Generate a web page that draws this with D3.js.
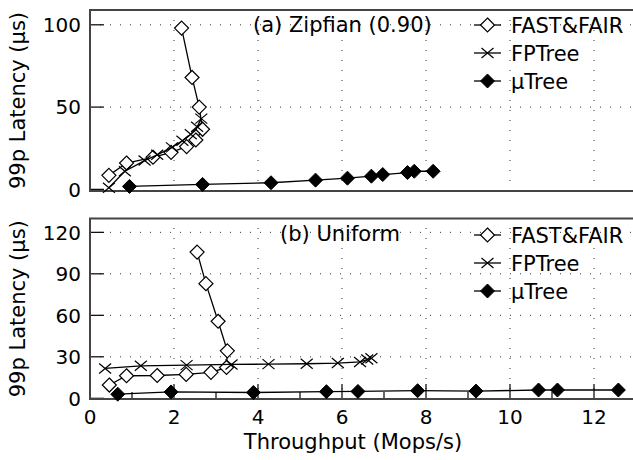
<!DOCTYPE html>
<html><head><meta charset="utf-8">
<script src="https://cdn.jsdelivr.net/npm/d3@7"></script>
<style>
body{margin:0;background:#fff;}
text{font-family:"DejaVu Sans",sans-serif;fill:#000;}
</style></head>
<body><svg id="c" width="633" height="460"></svg>
<script>
// ---- data ----
const xTicks = [0, 2, 4, 6, 8, 10, 12];
const zipfYTicks = [0, 50, 100];
const uniYTicks = [0, 30, 60, 90, 120];
const seriesNames = ["FAST&FAIR", "FPTree", "μTree"];

const zipfFastFairX = [0.45, 0.87, 1.5, 1.93, 2.3, 2.52, 2.68, 2.6, 2.43, 2.18];
const zipfFastFairY = [8.5, 16, 19.5, 22.5, 26, 30, 36.5, 50, 68, 98];
const zipfFPTreeX = [0.45, 0.83, 1.3, 1.6, 1.95, 2.2, 2.4, 2.55, 2.65];
const zipfFPTreeY = [1, 11, 17.5, 21, 25.5, 29.5, 33.5, 38, 43];
const zipfUTreeX = [0.94, 2.68, 4.31, 5.37, 6.13, 6.7, 6.97, 7.56, 7.72, 8.17];
const zipfUTreeY = [1.8, 3, 4, 5.6, 6.8, 8, 9, 10.2, 11, 11];

const uniFastFairX = [0.46, 0.87, 1.6, 2.29, 2.88, 3.25, 3.27, 3.05, 2.76, 2.55];
const uniFastFairY = [9.6, 16.3, 16.5, 17.3, 18.8, 22.3, 34.3, 55.7, 82.9, 105.7];
const uniFPTreeX = [0.36, 1.21, 2.3, 3.37, 4.25, 5.16, 5.9, 6.43, 6.6, 6.7];
const uniFPTreeY = [21.6, 23.5, 24, 24.5, 24.7, 25, 25.5, 26.3, 28, 29];
const uniUTreeX = [0.66, 1.93, 3.89, 5.63, 6.38, 7.8, 9.19, 10.68, 11.13, 12.58];
const uniUTreeY = [3, 4.6, 4.2, 4.8, 5, 5.5, 5.2, 6, 6, 6];

const titles = ["(a) Zipfian (0.90)", "(b) Uniform"];

// ---- drawing ----
const svg = d3.select("#c");
const left = 90, right = 636;
const x = d3.scaleLinear().domain([0, 13]).range([left, right]);

const panels = [
  {top: 10, bottom: 191, domain: [-1, 109], ticks: zipfYTicks, title: titles[0],
   titleX: 253, legendY: 25, xticks: false,
   series: [[zipfFastFairX, zipfFastFairY], [zipfFPTreeX, zipfFPTreeY], [zipfUTreeX, zipfUTreeY]]},
  {top: 218.5, bottom: 399, domain: [-0.5, 130], ticks: uniYTicks, title: titles[1],
   titleX: 280, legendY: 235, xticks: true,
   series: [[uniFastFairX, uniFastFairY], [uniFPTreeX, uniFPTreeY], [uniUTreeX, uniUTreeY]]}
];

const diamond = d3.symbol().type(d3.symbolDiamond2);
function drawMarker(g, kind, px, py) {
  if (kind === 0) {
    g.append("path").attr("d", "M0,-7L7,0L0,7L-7,0Z").attr("transform", `translate(${px},${py})`)
      .attr("fill", "#fff").attr("stroke", "#000").attr("stroke-width", 1.2);
  } else if (kind === 1) {
    g.append("path").attr("d", "M-6,-5L6,5M-6,5L6,-5").attr("transform", `translate(${px},${py})`)
      .attr("fill", "none").attr("stroke", "#000").attr("stroke-width", 1.2);
  } else {
    g.append("path").attr("d", "M0,-7L7,0L0,7L-7,0Z").attr("transform", `translate(${px},${py})`)
      .attr("fill", "#000").attr("stroke", "#000").attr("stroke-width", 1);
  }
}

panels.forEach(p => {
  const y = d3.scaleLinear().domain(p.domain).range([p.bottom, p.top]);
  const g = svg.append("g");
  // grid
  xTicks.filter(t => t > 0).forEach(t => {
    g.append("line").attr("x1", x(t)).attr("x2", x(t)).attr("y1", p.bottom).attr("y2", p.top)
      .attr("stroke", "#333").attr("stroke-width", 1).attr("stroke-dasharray", "1,9");
  });
  p.ticks.filter(t => t > 0).forEach(t => {
    g.append("line").attr("x1", left).attr("x2", right).attr("y1", y(t)).attr("y2", y(t))
      .attr("stroke", "#333").attr("stroke-width", 1).attr("stroke-dasharray", "1,9");
  });
  // y ticks
  p.ticks.forEach(t => {
    g.append("line").attr("x1", left).attr("x2", left + 14).attr("y1", y(t)).attr("y2", y(t))
      .attr("stroke", "#000").attr("stroke-width", 1.2);
    g.append("text").attr("x", left - 9).attr("y", y(t)).attr("dy", "0.36em")
      .attr("text-anchor", "end").attr("font-size", 20).text(t);
  });
  // x ticks
  if (p.xticks) {
    d3.range(1, 13).forEach(t => {
      const len = t % 2 === 0 ? 15 : 7;
      g.append("line").attr("x1", x(t)).attr("x2", x(t)).attr("y1", p.bottom).attr("y2", p.bottom - len)
        .attr("stroke", "#000").attr("stroke-width", 1.2);
    });
    xTicks.forEach(t => {
      g.append("text").attr("x", x(t)).attr("y", 424).attr("text-anchor", "middle")
        .attr("font-size", 20).text(t);
    });
  }
  // frame
  g.append("rect").attr("x", left).attr("y", p.top).attr("width", right - left).attr("height", p.bottom - p.top)
    .attr("fill", "none").attr("stroke", "#444").attr("stroke-width", 2);
  // title
  g.append("text").attr("x", p.titleX).attr("y", p.top + 22).attr("font-size", 21).text(p.title);
  // series
  const line = d3.line().x(d => x(d[0])).y(d => y(d[1]));
  p.series.forEach((s, k) => {
    const pts = s[0].map((v, i) => [v, s[1][i]]);
    g.append("path").attr("d", line(pts)).attr("fill", "none").attr("stroke", "#000").attr("stroke-width", 1.3);
    pts.forEach(d => drawMarker(g, k, x(d[0]), y(d[1])));
  });
  // legend
  seriesNames.forEach((n, k) => {
    const ly = p.legendY + k * 28;
    g.append("line").attr("x1", 474).attr("x2", 501).attr("y1", ly).attr("y2", ly)
      .attr("stroke", "#000").attr("stroke-width", 1.3);
    drawMarker(g, k, 487.5, ly);
    g.append("text").attr("x", 511).attr("y", ly).attr("dy", "0.36em").attr("font-size", 21).text(n);
  });
  // y label
  svg.append("text").attr("transform", `translate(25,${(p.top + p.bottom) / 2}) rotate(-90)`)
    .attr("text-anchor", "middle").attr("font-size", 21).text("99p Latency (μs)");
});

svg.append("text").attr("x", x(6.5) - 10).attr("y", 449).attr("text-anchor", "middle")
  .attr("font-size", 21).text("Throughput (Mops/s)");
</script></body></html>
